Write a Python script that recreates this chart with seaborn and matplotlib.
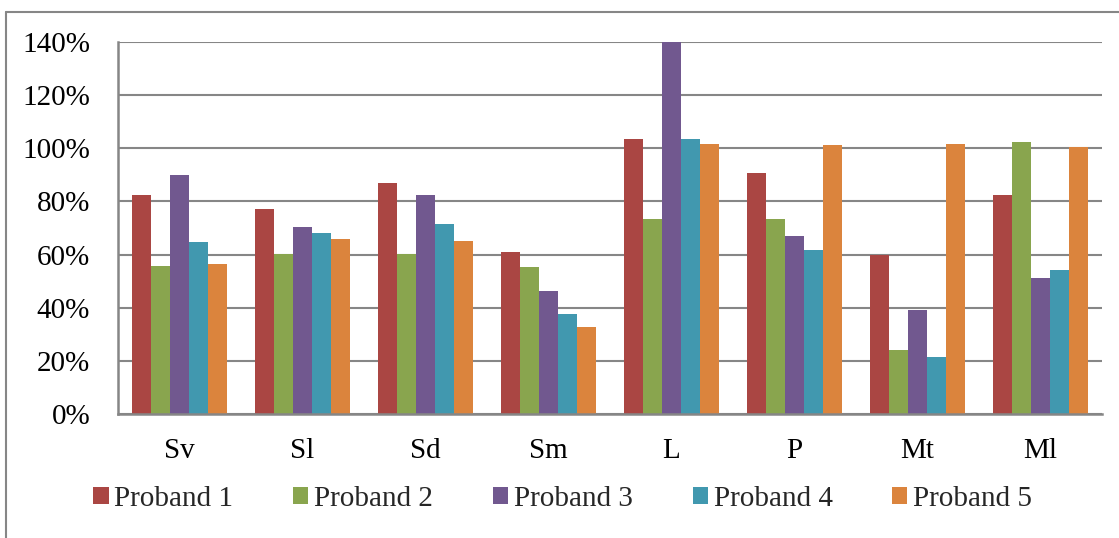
import matplotlib
matplotlib.use("Agg")
import matplotlib.pyplot as plt
from matplotlib.lines import Line2D
from matplotlib.patches import Patch
import seaborn as sns
import pandas as pd

# Categories on the x axis
categories = ["Sv", "Sl", "Sd", "Sm", "L", "P", "Mt", "Ml"]

# Per-proband values in percent
proband_1 = [82.4, 77.3, 86.8, 61.1, 103.6, 90.8, 59.8, 82.3]
proband_2 = [55.7, 60.1, 60.1, 55.2, 73.5, 73.5, 24.2, 102.4]
proband_3 = [89.8, 70.4, 82.4, 46.2, 140.0, 67.1, 39.0, 51.1]
proband_4 = [64.7, 68.0, 71.5, 37.5, 103.6, 61.6, 21.3, 54.3]
proband_5 = [56.3, 65.7, 65.2, 32.6, 101.6, 101.1, 101.6, 100.4]

series_names = ["Proband 1", "Proband 2", "Proband 3", "Proband 4", "Proband 5"]
series_values = [proband_1, proband_2, proband_3, proband_4, proband_5]
y_ticks = [0, 20, 40, 60, 80, 100, 120, 140]
y_tick_labels = ["0%", "20%", "40%", "60%", "80%", "100%", "120%", "140%"]

colors = ["#AA4643", "#89A54E", "#71588F", "#4198AF", "#DB843D"]

rows = []
for name, vals in zip(series_names, series_values):
    for cat, v in zip(categories, vals):
        rows.append({"category": cat, "proband": name, "value": v})
df = pd.DataFrame(rows)

sns.set_theme(style="white")
plt.rcParams["font.family"] = ["Liberation Serif", "DejaVu Serif"]

fig = plt.figure(figsize=(11.19, 5.38), dpi=100)
ax = fig.add_axes([118 / 1119, 1 - 414 / 538, (1102 - 118) / 1119, (414 - 42) / 538])

sns.barplot(data=df, x="category", y="value", hue="proband", order=categories,
            hue_order=series_names, palette=colors, width=0.77, gap=0,
            saturation=1, linewidth=0, ax=ax, legend=False)

grid_color = "#868686"
ax.set_ylim(0, 140)
ax.set_xlim(-0.5, len(categories) - 0.5)
ax.set_yticks(y_ticks)
ax.set_yticklabels(y_tick_labels)
ax.yaxis.grid(True, color=grid_color, linewidth=1.5)
ax.set_axisbelow(True)
ax.set_xlabel("")
ax.set_ylabel("")
for side in ["top", "right"]:
    ax.spines[side].set_visible(False)
for side in ["left", "bottom"]:
    ax.spines[side].set_color(grid_color)
    ax.spines[side].set_linewidth(1.8)
ax.tick_params(axis="y", length=0, pad=20, labelsize=21, labelcolor="black")
ax.tick_params(axis="x", length=0, pad=17, labelsize=21, labelcolor="black")

handles = [Patch(facecolor=c, edgecolor="none") for c in colors]
fig.legend(handles, series_names, loc="center", bbox_to_anchor=(0.503, 1 - 499 / 538),
           ncol=5, frameon=False, fontsize=21, handlelength=0.52, handleheight=0.55,
           handletextpad=0.2, columnspacing=2.05)

# Outer frame of the chart area
frame_color = "#868686"
fig.add_artist(Line2D([6 / 1119, 1.0], [1 - 12 / 538, 1 - 12 / 538],
                      color=frame_color, linewidth=1.5, transform=fig.transFigure))
fig.add_artist(Line2D([6 / 1119, 6 / 1119], [0.0, 1 - 12 / 538],
                      color=frame_color, linewidth=1.5, transform=fig.transFigure))

fig.savefig("out.png", dpi=100)
